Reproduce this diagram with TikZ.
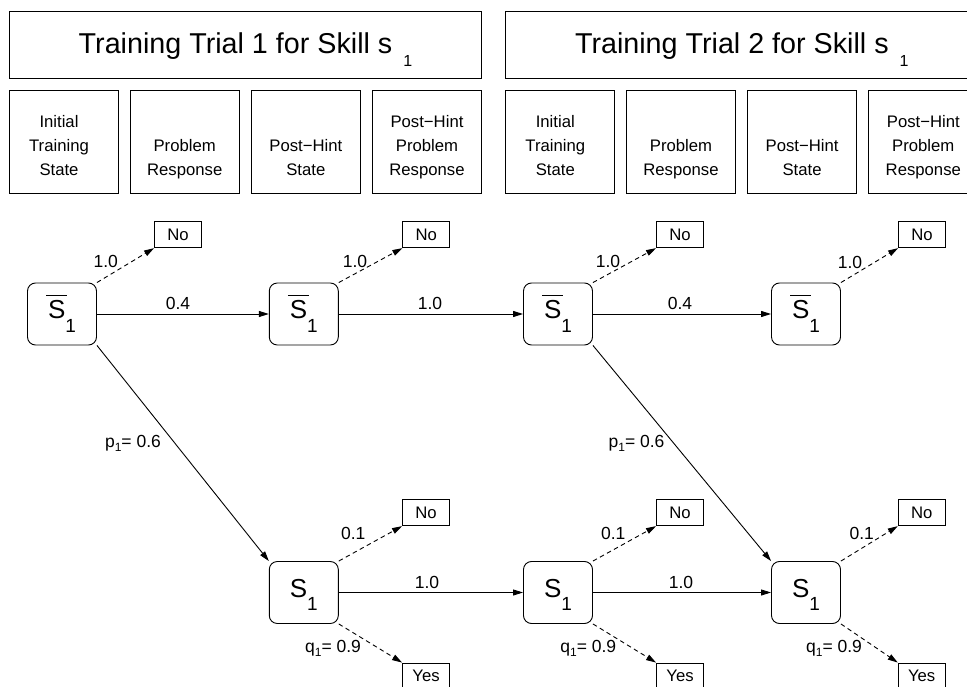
\documentclass[tikz,border=0pt]{standalone}
\usepackage{fontspec}
\setmainfont{Liberation Sans}
\usetikzlibrary{arrows.meta}
\newcommand{\hdrsz}{\fontsize{28.7}{30}\selectfont}
\newcommand{\lblsz}{\fontsize{16.7}{24}\selectfont}
\newcommand{\edgesz}{\fontsize{17.5}{20}\selectfont}
\newcommand{\subsz}{\fontsize{12}{12}\selectfont}
\newcommand{\stS}{\fontsize{26}{26}\selectfont}
\newcommand{\stsub}{\fontsize{19}{19}\selectfont}
\newcommand{\sstrut}{\rule[-17pt]{0pt}{43pt}}
\newcommand{\Sone}{\sstrut{\stS S}\raisebox{-13.5pt}{\stsub 1}}
\newcommand{\Sbar}{\sstrut{\stS\rlap{\hspace{-2pt}\rule[22.5pt]{21pt}{1.2pt}}S}\raisebox{-13.5pt}{\stsub 1}}
\newcommand{\hdrtxt}[1]{Training Trial #1 for Skill s\hspace{11pt}\raisebox{-12.5pt}{\fontsize{16}{16}\selectfont 1}}
\newcommand{\subone}[1]{#1\raisebox{-4pt}{\subsz 1}}
\begin{document}
\begin{tikzpicture}[x=1pt,y=-1pt,
  every node/.style={font=\lblsz, inner sep=0pt},
  hbox/.style={draw, line width=0.9pt, minimum width=472.4pt, minimum height=66.6pt, font=\hdrsz, text height=25pt, text depth=7pt},
  cbox/.style={draw, line width=0.9pt, minimum width=109pt, minimum height=103.3pt},
  ctext/.style={align=center, anchor=south},
  state/.style={draw, rounded corners=8pt, line width=0.9pt, minimum width=69pt, minimum height=62pt},
  ans/.style={draw, line width=0.9pt, minimum width=47pt, minimum height=26pt},
  elbl/.style={font=\edgesz},
  sol/.style={line width=0.9pt, -{Triangle[length=10pt,width=6pt]}},
  dsh/.style={sol, dash pattern=on 4.5pt off 3.5pt}
]
\useasboundingbox (0,0) rectangle (967,687);
\clip (0,0) rectangle (967,687);

% headers
\node[hbox] (h1) at (245.5,45) {\hdrtxt{1}};
\node[hbox] (h2) at (741.8,45) {\hdrtxt{2}};

% column boxes, trial 1
\node[cbox] (c11) at (63.8,141.7) {};
\node[cbox] (c12) at (184.7,141.7) {};
\node[cbox] (c13) at (305.8,141.7) {};
\node[cbox] (c14) at (427,141.7) {};
\node[ctext] (t11) at (59,182.9) {Initial\\Training\\State\strut};
\node[ctext] (t12) at (184.7,182.9) {Problem\\Response\strut};
\node[ctext] (t13) at (305.8,182.9) {Post−Hint\\State\strut};
\node[ctext] (t14) at (427,182.9) {Post−Hint\\Problem\\Response\strut};
% column boxes, trial 2
\node[cbox] (c21) at (560.1,141.7) {};
\node[cbox] (c22) at (681,141.7) {};
\node[cbox] (c23) at (802.1,141.7) {};
\node[cbox] (c24) at (923.3,141.7) {};
\node[ctext] (t21) at (555.3,182.9) {Initial\\Training\\State\strut};
\node[ctext] (t22) at (681,182.9) {Problem\\Response\strut};
\node[ctext] (t23) at (802.1,182.9) {Post−Hint\\State\strut};
\node[ctext] (t24) at (923.3,182.9) {Post−Hint\\Problem\\Response\strut};

% states
\node[state] (a1) at (62,314) {\Sbar};
\node[state] (a2) at (303.8,314) {\Sbar};
\node[state] (a3) at (558,314) {\Sbar};
\node[state] (a4) at (806,314) {\Sbar};
\node[state] (b2) at (303.8,592.5) {\Sone};
\node[state] (b3) at (558,592.5) {\Sone};
\node[state] (b4) at (806,592.5) {\Sone};

% outcomes
\node[ans] (n1) at (178,234.7) {No};
\node[ans] (n2) at (426.3,234.7) {No};
\node[ans] (n3) at (680,234.7) {No};
\node[ans] (n4) at (922,234.7) {No};
\node[ans] (m2) at (426,512.7) {No};
\node[ans] (m3) at (680,512.7) {No};
\node[ans] (m4) at (921.7,512.7) {No};
\node[ans] (y2) at (426,676) {Yes};
\node[ans] (y3) at (680,676) {Yes};
\node[ans] (y4) at (921.7,676) {Yes};

% solid transitions
\draw[sol] (a1.east) -- (a2.west);
\draw[sol] (a2.east) -- (a3.west);
\draw[sol] (a3.east) -- (a4.west);
\draw[sol] (a1.south east) -- (b2.north west);
\draw[sol] (a3.south east) -- (b4.north west);
\draw[sol] (b2.east) -- (b3.west);
\draw[sol] (b3.east) -- (b4.west);

% dashed responses
\draw[dsh] (a1.north east) -- (n1.south west);
\draw[dsh] (a2.north east) -- (n2.south west);
\draw[dsh] (a3.north east) -- (n3.south west);
\draw[dsh] (a4.north east) -- (n4.south west);
\draw[dsh] (b2.north east) -- (m2.south west);
\draw[dsh] (b3.north east) -- (m3.south west);
\draw[dsh] (b4.north east) -- (m4.south west);
\draw[dsh] (b2.south east) -- (y2.north west);
\draw[dsh] (b3.south east) -- (y3.north west);
\draw[dsh] (b4.south east) -- (y4.north west);

% labels
\node[elbl] (l1) at (105.7,261.7) {1.0};
\node[elbl] (l2) at (355,261.7) {1.0};
\node[elbl] (l3) at (608,261.7) {1.0};
\node[elbl] (l4) at (850,262) {1.0};
\node[elbl] (l5) at (178,303.3) {0.4};
\node[elbl] (l6) at (430,303.3) {1.0};
\node[elbl] (l7) at (680,303.3) {0.4};
\node[elbl] (l8) at (133,443) {\subone{p}= 0.6};
\node[elbl] (l9) at (636.5,443) {\subone{p}= 0.6};
\node[elbl] (l10) at (353.3,533) {0.1};
\node[elbl] (l11) at (613.3,533) {0.1};
\node[elbl] (l12) at (861.7,533) {0.1};
\node[elbl] (l13) at (427,582) {1.0};
\node[elbl] (l14) at (681,582) {1.0};
\node[elbl] (l15) at (333,648.3) {\subone{q}= 0.9};
\node[elbl] (l16) at (588.3,648.3) {\subone{q}= 0.9};
\node[elbl] (l17) at (834,648.3) {\subone{q}= 0.9};
\end{tikzpicture}
\end{document}
